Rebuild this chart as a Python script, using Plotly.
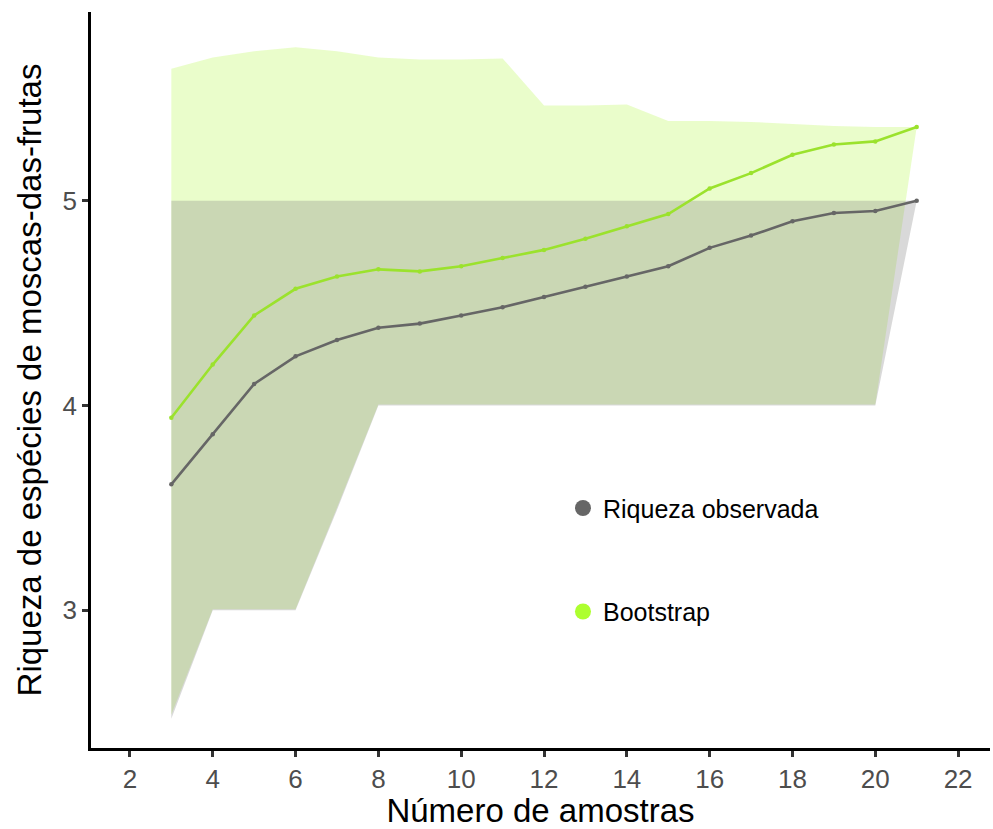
import plotly.graph_objects as go

amostras = list(range(3, 22))
obs = [3.615, 3.86, 4.105, 4.24, 4.32, 4.38, 4.40, 4.44, 4.48, 4.53, 4.58, 4.63, 4.68, 4.77, 4.83, 4.90, 4.94, 4.95, 5.0]
obs_low = [2.47, 3.0, 3.0, 3.0, 3.49, 4.0, 4.0, 4.0, 4.0, 4.0, 4.0, 4.0, 4.0, 4.0, 4.0, 4.0, 4.0, 4.0, 5.0]
obs_up = [5.0] * 19
boot = [3.94, 4.20, 4.44, 4.57, 4.63, 4.665, 4.655, 4.68, 4.72, 4.76, 4.815, 4.875, 4.935, 5.06, 5.135, 5.225, 5.275, 5.29, 5.36]
boot_low = [2.49, 3.005, 3.005, 3.005, 3.5, 4.005, 4.005, 4.005, 4.005, 4.005, 4.005, 4.005, 4.005, 4.005, 4.005, 4.005, 4.005, 4.005, 5.36]
boot_up = [5.645, 5.70, 5.73, 5.75, 5.73, 5.70, 5.69, 5.69, 5.695, 5.465, 5.465, 5.47, 5.39, 5.39, 5.385, 5.375, 5.365, 5.36, 5.36]

GRAY = "#666666"
GREEN_LINE = "#9be22d"
GREEN_DOT = "#adff2f"

fig = go.Figure()
fig.add_trace(go.Scatter(x=amostras + amostras[::-1], y=boot_up + boot_low[::-1], fill="toself",
                         fillcolor="rgba(160,245,20,0.22)", line=dict(width=0), mode="lines",
                         showlegend=False, hoverinfo="skip"))
fig.add_trace(go.Scatter(x=amostras + amostras[::-1], y=obs_up + obs_low[::-1], fill="toself",
                         fillcolor="rgba(128,128,128,0.3)", line=dict(width=0), mode="lines",
                         showlegend=False, hoverinfo="skip"))
fig.add_trace(go.Scatter(x=amostras, y=boot, mode="lines+markers", name="Bootstrap",
                         line=dict(color=GREEN_LINE, width=2.6), marker=dict(size=4.5, color=GREEN_LINE),
                         legendgroup="b", legendrank=2, showlegend=False))
fig.add_trace(go.Scatter(x=amostras, y=obs, mode="lines+markers", name="Riqueza observada",
                         line=dict(color=GRAY, width=2.6), marker=dict(size=4.5, color=GRAY),
                         legendgroup="a", legendrank=1, showlegend=False))
# legend entries
fig.add_trace(go.Scatter(x=[None], y=[None], mode="markers", name="Riqueza observada",
                         marker=dict(size=16, color=GRAY), legendgroup="a", legendrank=1))
fig.add_trace(go.Scatter(x=[None], y=[None], mode="markers", name="Bootstrap",
                         marker=dict(size=16, color=GREEN_DOT), legendgroup="b", legendrank=2))

fig.update_layout(
    width=993, height=829,
    margin=dict(l=91, r=3, t=12, b=81),
    plot_bgcolor="white", paper_bgcolor="white",
    font=dict(family="Liberation Sans, Arial, sans-serif", color="black"),
    legend=dict(x=0.525, y=0.357, xanchor="left", yanchor="top", tracegroupgap=68,
                font=dict(size=25, color="black"), bgcolor="rgba(0,0,0,0)",
                traceorder="grouped"),
    xaxis=dict(range=[1.06, 22.77], tickvals=list(range(2, 23, 2)),
               showgrid=False, zeroline=False, showline=True, linecolor="black", linewidth=2.5,
               ticks="outside", ticklen=6, tickwidth=2.5, tickcolor="#333333",
               tickfont=dict(size=26, color="#4d4d4d"),
               title=dict(text="Número de amostras", font=dict(size=33, color="black"), standoff=3)),
    yaxis=dict(range=[2.327, 5.922], tickvals=[3, 4, 5],
               showgrid=False, zeroline=False, showline=True, linecolor="black", linewidth=2.5,
               ticks="outside", ticklen=6, tickwidth=2.5, tickcolor="#333333",
               tickfont=dict(size=26, color="#4d4d4d"),
               title=dict(text="Riqueza de espécies de moscas-das-frutas", font=dict(size=33, color="black"), standoff=12)),
)

fig.write_html("out.html")
